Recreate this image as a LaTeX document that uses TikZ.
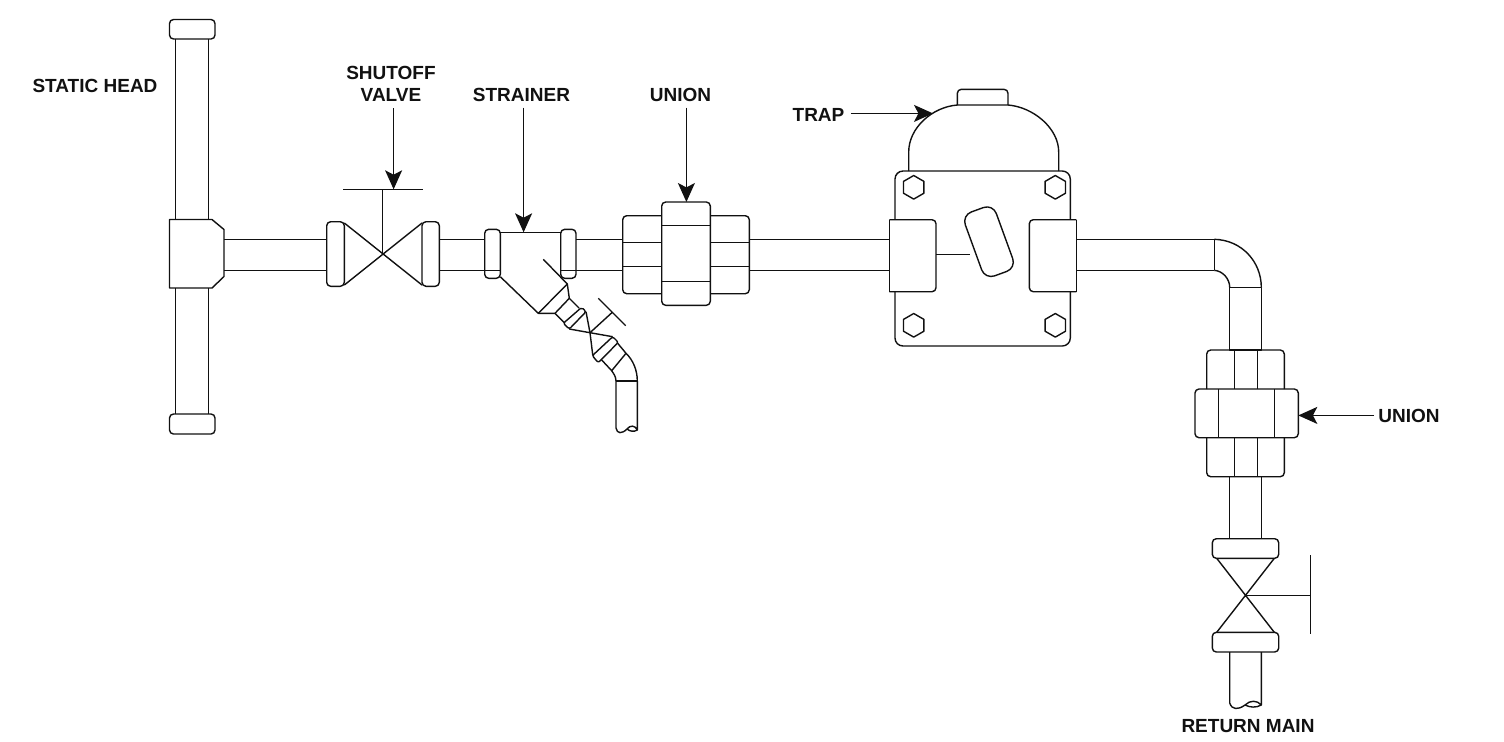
\documentclass[tikz,border=0pt]{standalone}
\usepackage{fontspec}
\setmainfont{Liberation Sans}
\usetikzlibrary{arrows.meta, shapes.geometric}

\definecolor{inkline}{HTML}{111111}
\tikzset{
    pipe/.style={draw=inkline, line width=0.7pt, line join=round},
    fitting/.style={pipe, rounded corners=2pt},
    tag/.style={font=\fontsize{9.5}{11}\selectfont\bfseries, text=inkline, inner sep=0pt, align=center},
    pointer/.style={pipe, -{Stealth[length=9.5pt, width=8.5pt, inset=2.2pt]}, shorten <=3pt},
    bolt/.style={pipe, regular polygon, regular polygon sides=6, shape border rotate=30, minimum size=11.8pt, inner sep=0pt, outer sep=0pt}
}

\begin{document}
\begin{tikzpicture}[x=0.5pt, y=-0.5pt]
    \useasboundingbox (0,0) rectangle (1504,741);

    % static head
    \draw[fitting] (169.5,19.5) rectangle (215,39);
    \draw[fitting] (169.5,414) rectangle (215,434);
    \draw[pipe] (175.7,39) -- (175.7,219.5) (208.7,39) -- (208.7,219.5);
    \draw[pipe] (175.7,288) -- (175.7,414) (208.7,288) -- (208.7,414);
    \draw[pipe] (169.5,219.5) -- (212,219.5) -- (224,229.5) -- (224,276.5) -- (212,288) -- (169.5,288) -- cycle;
    \draw[pipe] (224,239.3) -- (326.7,239.3) (224,270.3) -- (326.7,270.3);

    % shutoff valve
    \draw[fitting] (326.7,221.7) rectangle (344.3,286.3);
    \draw[fitting] (422,221.7) rectangle (439.3,286.3);
    \draw[pipe] (344.3,223) -- (422,285) (344.3,285) -- (422,223);
    \draw[pipe] (382.7,254) -- (382.7,189.3) (343,189.3) -- (422.7,189.3);
    \draw[pipe] (439.3,239.3) -- (484.7,239.3) (439.3,270.3) -- (484.7,270.3);

    % strainer
    \draw[fitting] (484.7,229.3) rectangle (500.3,278.3);
    \draw[fitting] (560.7,229.3) rectangle (576,278.3);
    \draw[pipe] (484.7,270.3) -- (500.3,270.3) (560.7,270.3) -- (576,270.3);
    \draw[pipe] (500.3,232.3) -- (560.7,232.3);
    \draw[pipe] (500.3,276.7) -- (538.3,313.3) -- (567.3,284) -- (543.3,259.3);
    \draw[pipe] (567.3,284) -- (569.3,298.3) -- (579,308);
    \draw[pipe] (538.3,313.3) -- (555,313.3) -- (564.3,322.7);
    \draw[pipe] (555,313.3) -- (569.3,298.3);
    \draw[pipe, rounded corners=1pt] (563.3,323.3) -- (581.7,307.3) -- (586,311.7) -- (569.3,329) -- cycle;
    \draw[pipe] (586,311.7) -- (590,332.7) -- (569.3,329);
    \draw[pipe] (590,332.7) -- (612.3,312.3) (598.3,298.3) -- (625.7,325.7);
    \draw[pipe] (590,332.7) -- (612.7,336.7) (590,332.7) -- (592.8,355.5);
    \draw[pipe, rounded corners=1pt] (592.3,355.7) -- (612.7,336.7) -- (618.3,342.3) -- (598.3,362.7) -- cycle;
    \draw[pipe] (601.7,360) -- (611.7,370.7) -- (626,353.3) -- (617.7,343.3);
    \draw[pipe] (626,353.3) .. controls (633,360) and (637.3,370) .. (637.3,381);
    \draw[pipe] (611.7,370.7) .. controls (613,373) and (616,376) .. (616,381);
    \draw[pipe] (616,381) -- (637.3,381);
    \draw[pipe] (616,381) -- (616,428) .. controls (617,434) and (622,434) .. (627,429)
        .. controls (630,425) and (635,425) .. (637.3,430) -- (637.3,381);
    \draw[pipe] (627,429) .. controls (630,431.5) and (634,432) .. (637.3,430);
    \draw[pipe] (576,239.3) -- (622.7,239.3) (576,270.3) -- (622.7,270.3);

    % union on the main
    \draw[fitting] (661.7,215.7) -- (622.7,215.7) -- (622.7,293.7) -- (661.7,293.7);
    \draw[fitting] (710.3,215.7) -- (749.3,215.7) -- (749.3,293.7) -- (710.3,293.7);
    \draw[fitting] (661.7,202) rectangle (710.3,305.3);
    \draw[pipe] (661.7,225.3) -- (710.3,225.3) (661.7,281.3) -- (710.3,281.3);
    \draw[pipe] (622.7,242.3) -- (661.7,242.3) (622.7,266.3) -- (661.7,266.3);
    \draw[pipe] (710.3,242.3) -- (749.3,242.3) (710.3,266.3) -- (749.3,266.3);
    \draw[pipe] (749.3,239.3) -- (889.3,239.3) (749.3,270.3) -- (889.3,270.3);

    % trap
    \draw[pipe] (908.7,171) -- (908.7,152) .. controls (908.7,128) and (932,107) .. (957.3,105)
        -- (1008,105) .. controls (1033,107) and (1058.7,128) .. (1058.7,152) -- (1058.7,171);
    \draw[fitting] (957.3,105) -- (957.3,89.3) -- (1008,89.3) -- (1008,105);
    \draw[pipe, rounded corners=4pt] (895,219.7) -- (895,171) -- (1070.3,171) -- (1070.3,219.7);
    \draw[pipe, rounded corners=4pt] (895,291.7) -- (895,346) -- (1070.3,346) -- (1070.3,291.7);
    \draw[fitting] (889.3,219.7) -- (936,219.7) -- (936,291.7) -- (889.3,291.7);
    \draw[pipe] (889.3,219.7) -- (889.3,291.7);
    \draw[fitting] (1076.3,219.7) -- (1029.3,219.7) -- (1029.3,291.7) -- (1076.3,291.7);
    \draw[pipe] (1076.3,219.7) -- (1076.3,291.7);
    \node[bolt] (bolt_a) at (913.7,187.3) {};
    \node[bolt] (bolt_b) at (1055.3,187.3) {};
    \node[bolt] (bolt_c) at (913.7,325.3) {};
    \node[bolt] (bolt_d) at (1055.3,325.3) {};
    \node[pipe, rounded corners=5pt, minimum width=16.5pt, minimum height=34pt, inner sep=0pt, rotate=20] (float) at (989,241.7) {};
    \draw[pipe] (936,254.3) -- (970,254.3);
    \draw[pipe] (1076.3,239.3) -- (1214.3,239.3) (1076.3,270.3) -- (1214.3,270.3);

    % elbow and drop
    \draw[pipe] (1214.3,239.3) -- (1214.3,270.3);
    \draw[pipe] (1214.3,239.3) .. controls (1242,240) and (1261.3,262) .. (1261.3,287.3);
    \draw[pipe] (1214.3,270.3) .. controls (1223,271) and (1229.7,279) .. (1229.7,287.3);
    \draw[pipe] (1229.7,287.3) rectangle (1261.3,350);

    % union on the drop
    \draw[fitting] (1206.7,389) -- (1206.7,350) -- (1284.3,350) -- (1284.3,389);
    \draw[fitting] (1206.7,437.7) -- (1206.7,476.7) -- (1284.3,476.7) -- (1284.3,437.7);
    \draw[fitting] (1195,389) rectangle (1298.3,437.7);
    \draw[pipe] (1218.3,389) -- (1218.3,437.7) (1274.3,389) -- (1274.3,437.7);
    \draw[pipe] (1234.3,350) -- (1234.3,389) (1257.3,350) -- (1257.3,389);
    \draw[pipe] (1234.3,437.7) -- (1234.3,476.7) (1257.3,437.7) -- (1257.3,476.7);
    \draw[pipe] (1229.7,476.7) -- (1229.7,538.7) (1261.3,476.7) -- (1261.3,538.7);

    % valve on the drop
    \draw[fitting] (1212.3,538.7) rectangle (1278.7,558.3);
    \draw[fitting] (1212.3,632.3) rectangle (1278.7,652);
    \draw[pipe] (1216.7,558.3) -- (1274.3,632.3) (1274.3,558.3) -- (1216.7,632.3);
    \draw[pipe] (1245.7,595.3) -- (1310.3,595.3) (1310.3,555) -- (1310.3,634.3);
    \draw[pipe] (1229.7,652) -- (1229.7,703) .. controls (1232,710) and (1238,710) .. (1245,705)
        .. controls (1250,700) and (1257,700) .. (1261.3,705) -- (1261.3,652);
    \draw[pipe] (1245,705) .. controls (1250,707.5) and (1256,708) .. (1261.3,705);

    % labels
    \node[tag] (l_head) at (95,86) {STATIC HEAD};
    \node[tag] (l_valve) at (391,84) {SHUTOFF\\VALVE};
    \node[tag] (l_strainer) at (521.5,94.5) {STRAINER};
    \node[tag] (l_union) at (680.5,94.5) {UNION};
    \node[tag] (l_trap) at (818.5,114.5) {TRAP};
    \node[tag] (l_drop) at (1409,415.5) {UNION};
    \node[tag] (l_main) at (1248,726) {RETURN MAIN};

    \coordinate (valve_tip) at (393.6,189.3);
    \coordinate (strainer_tip) at (523.6,232.3);
    \coordinate (union_tip) at (686.4,202);
    \coordinate (trap_tip) at (933,113.4);
    \coordinate (drop_tip) at (1298.3,415.4);

    \path
        (l_valve.south -| valve_tip) edge [pointer] (valve_tip)
        (l_strainer.south -| strainer_tip) edge [pointer] (strainer_tip)
        (l_union.south -| union_tip) edge [pointer] (union_tip)
        (l_trap.east |- trap_tip) edge [pointer] (trap_tip)
        (l_drop.west |- drop_tip) edge [pointer, shorten <=2pt] (drop_tip);
\end{tikzpicture}
\end{document}
